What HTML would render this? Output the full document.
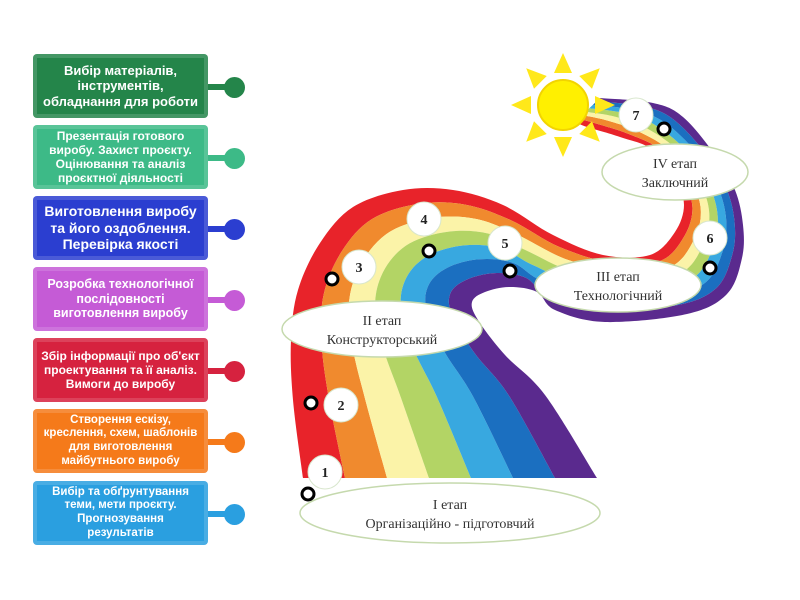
<!DOCTYPE html>
<html><head><meta charset="utf-8"><style>
body{margin:0;width:800px;height:600px;background:#fff;position:relative;overflow:hidden;font-family:"Liberation Sans","DejaVu Sans",sans-serif}
.b{position:absolute;left:33px;width:175px;height:64px;border-radius:4px;color:#fff;font-weight:bold;display:flex;align-items:center;justify-content:center;text-align:center;line-height:1.18;box-sizing:border-box;padding:3px 9px;box-shadow:inset 0 0 0 4px rgba(255,255,255,0.15)}
.l{position:absolute;left:208px;width:22px;height:6px}
.d{position:absolute;left:224px;width:21px;height:21px;border-radius:50%}
</style></head><body>
<svg id="s" width="800" height="600" style="position:absolute;left:0;top:0"></svg>
<div class="b" style="top:54px;background:#24854a;font-size:13px;padding:3px 6px">Вибір матеріалів, інструментів, обладнання для роботи</div>
<div class="l" style="top:84px;background:#24854a"></div><div class="d" style="top:77px;background:#24854a"></div>
<div class="b" style="top:125px;background:#3dba87;font-size:12px;padding:3px 6px">Презентація готового виробу. Захист проєкту. Оцінювання та аналіз проєктної діяльності</div>
<div class="l" style="top:155px;background:#3dba87"></div><div class="d" style="top:148px;background:#3dba87"></div>
<div class="b" style="top:196px;background:#2b3ed0;font-size:14px;padding:3px 6px">Виготовлення виробу та його оздоблення. Перевірка якості</div>
<div class="l" style="top:226px;background:#2b3ed0"></div><div class="d" style="top:219px;background:#2b3ed0"></div>
<div class="b" style="top:267px;background:#c55bd6;font-size:12.5px;padding:3px 4px">Розробка технологічної послідовності виготовлення виробу</div>
<div class="l" style="top:297px;background:#c55bd6"></div><div class="d" style="top:290px;background:#c55bd6"></div>
<div class="b" style="top:338px;background:#d6223f;font-size:12px;padding:3px 4px">Збір інформації про об'єкт проектування та її аналіз. Вимоги до виробу</div>
<div class="l" style="top:368px;background:#d6223f"></div><div class="d" style="top:361px;background:#d6223f"></div>
<div class="b" style="top:409px;background:#f57a1a;font-size:11.5px;padding:3px 5px">Створення ескізу, креслення, схем, шаблонів для виготовлення майбутнього виробу</div>
<div class="l" style="top:439px;background:#f57a1a"></div><div class="d" style="top:432px;background:#f57a1a"></div>
<div class="b" style="top:481px;background:#2a9fe0;font-size:11.5px;padding:3px 14px">Вибір та обґрунтування теми, мети проєкту. Прогнозування результатів</div>
<div class="l" style="top:511px;background:#2a9fe0"></div><div class="d" style="top:504px;background:#2a9fe0"></div>
<script>
var O=[[303,478],[293,400],[291,340],[298,290],[320,243],[353,207],[403,190],[453,190],[503,205],[553,235],[603,255],[650,255],[675,232],[684,205],[675,180],[653,150],[620,137],[587,127],[575,122]];
var I=[[597,478],[545,395],[505,355],[478,320],[472,302],[485,292],[510,287],[537,292],[555,310],[605,322],[687,314],[727,294],[742,258],[743,225],[735,190],[715,155],[683,117],[653,103],[600,98]];
var C=["#e8232a","#f08a2e","#fbf3a8","#b3d465","#38a8e0","#1b6fc0","#5a2a8e"];
function B(t){return O.map(function(p,i){return[p[0]+(I[i][0]-p[0])*t,p[1]+(I[i][1]-p[1])*t]})}
function sm(P,start){var d=start?"M"+P[0][0]+","+P[0][1]:"L"+P[0][0]+","+P[0][1];for(var i=0;i<P.length-1;i++){var p0=P[i-1]||P[i],p1=P[i],p2=P[i+1],p3=P[i+2]||p2;d+="C"+(p1[0]+(p2[0]-p0[0])/6)+","+(p1[1]+(p2[1]-p0[1])/6)+" "+(p2[0]-(p3[0]-p1[0])/6)+","+(p2[1]-(p3[1]-p1[1])/6)+" "+p2[0]+","+p2[1]}return d}
var h="";
for(var k=0;k<7;k++){var a=B(k/7),b=B((k+1)/7).reverse();h+='<path d="'+sm(a,1)+sm(b,0)+'Z" fill="'+C[k]+'"/>'}
var sx=563,sy=105;for(var r=0;r<8;r++){var an=r*Math.PI/4,c=Math.cos(an),s=Math.sin(an);var tx=sx+c*52,ty=sy+s*52,bx=sx+c*32,by=sy+s*32;h+='<polygon points="'+tx+','+ty+' '+(bx-s*9)+','+(by+c*9)+' '+(bx+s*9)+','+(by-c*9)+'" fill="#ffe81a"/>'}
h+='<circle cx="563" cy="105" r="25" fill="#fff000" stroke="#f2d400" stroke-width="2"/>';
var E=[[450,513,150,30,"I етап","Організаційно - підготовчий"],[382,329,100,28,"II етап","Конструкторський"],[618,285,83,27,"III етап","Технологічний"],[675,172,73,28,"IV етап","Заключний"]];
E.forEach(function(e){h+='<ellipse cx="'+e[0]+'" cy="'+e[1]+'" rx="'+e[2]+'" ry="'+e[3]+'" fill="#fff" stroke="#c5d9ad" stroke-width="1.5"/><text x="'+e[0]+'" y="'+(e[1]-4)+'" font-family="Liberation Serif,serif" font-size="14" text-anchor="middle" fill="#333">'+e[4]+'</text><text x="'+e[0]+'" y="'+(e[1]+15)+'" font-family="Liberation Serif,serif" font-size="14" text-anchor="middle" fill="#333">'+e[5]+'</text>'});
var N=[[325,472,"1"],[341,405,"2"],[359,267,"3"],[424,219,"4"],[505,243,"5"],[710,238,"6"],[636,115,"7"]];
N.forEach(function(n){h+='<circle cx="'+n[0]+'" cy="'+n[1]+'" r="17" fill="#fff" stroke="#d8e6cc"/><text x="'+n[0]+'" y="'+(n[1]+5)+'" font-family="Liberation Serif,serif" font-weight="bold" font-size="14" text-anchor="middle" fill="#222">'+n[2]+'</text>'});
[[308,494],[311,403],[332,279],[429,251],[510,271],[710,268],[664,129]].forEach(function(p){h+='<circle cx="'+p[0]+'" cy="'+p[1]+'" r="6" fill="#fff" stroke="#000" stroke-width="3"/>'});
document.getElementById("s").innerHTML=h;
</script>
</body></html>
